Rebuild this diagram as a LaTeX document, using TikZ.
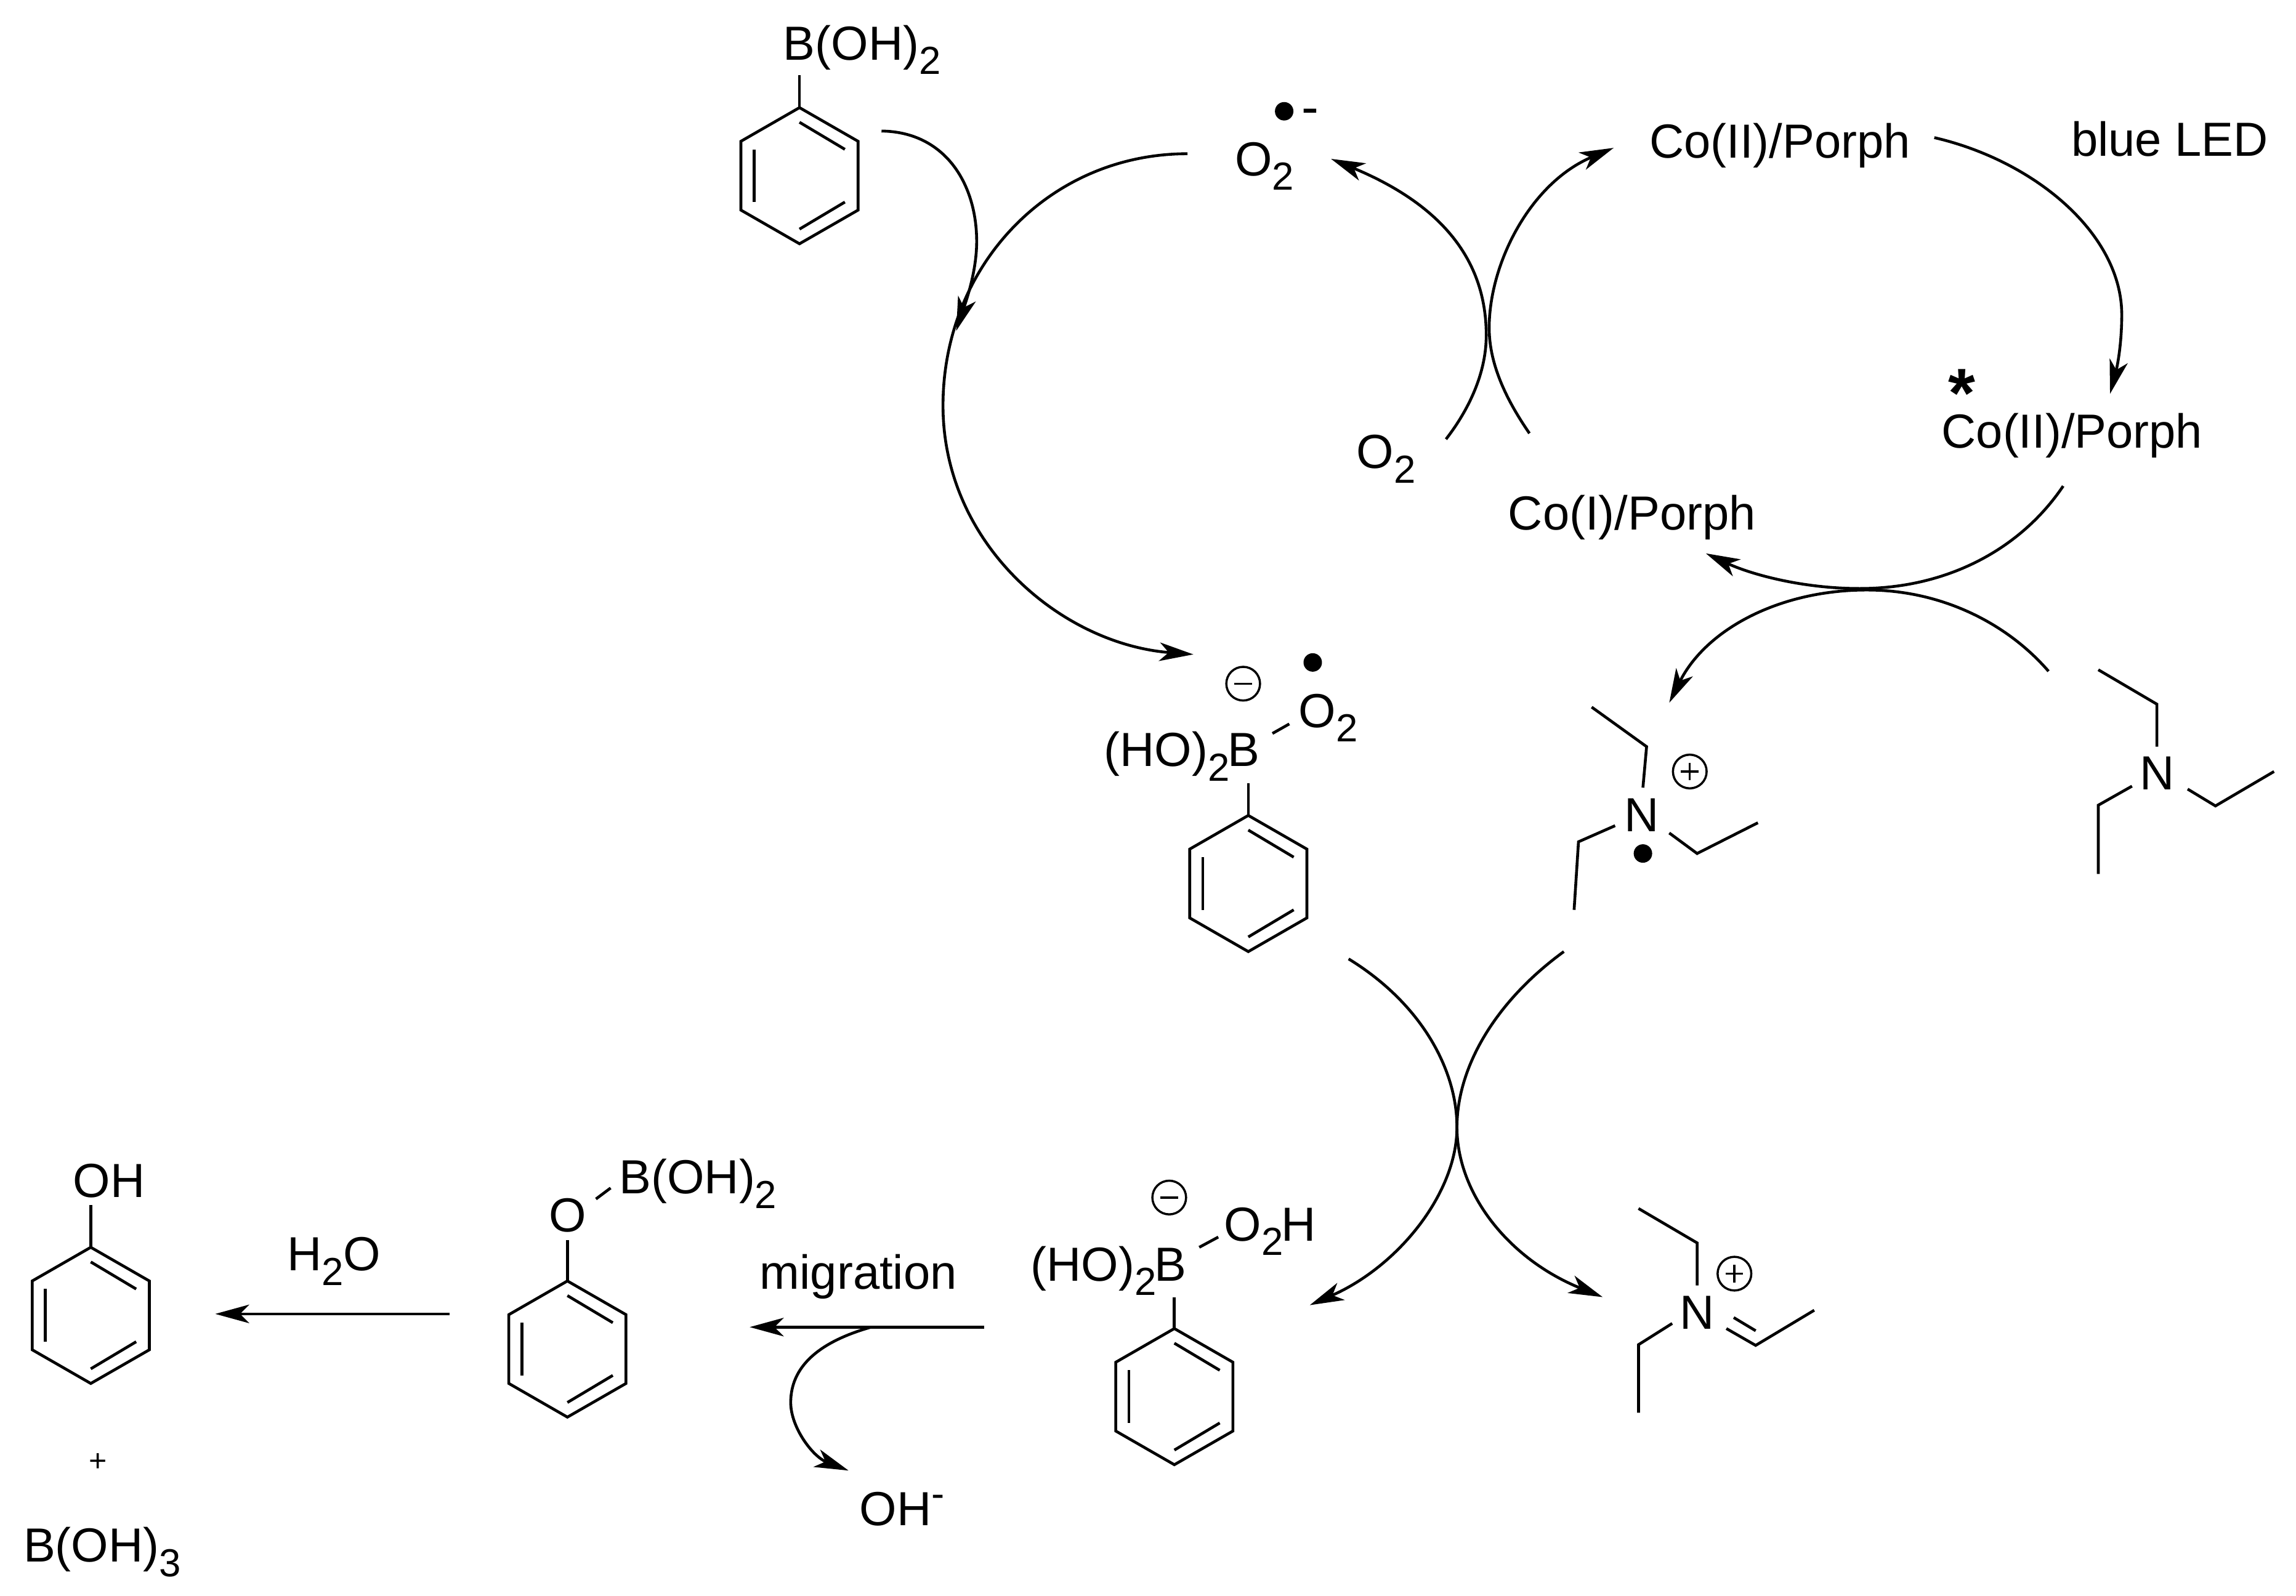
\documentclass[tikz,border=0pt]{standalone}
\usepackage{fontspec}
\setmainfont{Liberation Sans}
\usetikzlibrary{arrows.meta}
\newcommand{\chemsub}[1]{\raisebox{-0.3em}{\fontsize{7.6}{8}\selectfont #1}}
\newcommand{\benzring}[2]{%
  \draw[bond,line join=miter] (#1,#2-46.5) -- (#1+40,#2-23.5) -- (#1+40,#2+23.5) -- (#1,#2+46.5) -- (#1-40,#2+23.5) -- (#1-40,#2-23.5) -- cycle;
  \draw[bond] (#1,#2-36.5) -- (#1+31,#2-18);
  \draw[bond] (#1-31,#2-18) -- (#1-31,#2+18);
  \draw[bond] (#1+31,#2+18) -- (#1,#2+36.5);
}
\newcommand{\chargeplus}[2]{%
  \draw[chg] (#1,#2) circle[radius=0.115cm];
  \draw[chg] (#1-6,#2) -- (#1+6,#2) (#1,#2-6) -- (#1,#2+6);
}
\newcommand{\chargeminus}[2]{%
  \draw[chg] (#1,#2) circle[radius=0.115cm];
  \draw[chg] (#1-6,#2) -- (#1+6,#2);
}
\tikzset{
  bond/.style={line width=0.55pt,line cap=butt},
  chg/.style={line width=0.42pt},
  curved/.style={line width=0.55pt,-{Stealth[length=6.6pt,width=3.6pt,inset=1.8pt]}},
  chem/.style={inner sep=0pt,outer sep=0pt,anchor=base west,font=\fontsize{9.3}{11}\selectfont},
  chemc/.style={inner sep=0pt,outer sep=0pt,anchor=base,font=\fontsize{9.3}{11}\selectfont},
  dotmark/.style={fill=black,draw=none}
}
\begin{document}
\begin{tikzpicture}[x=0.01cm,y=-0.01cm]
\useasboundingbox (0,0) rectangle (1568,1090);
% text
\node[chem] (boh) at (535,41) {B(OH)\chemsub{2}};
\node[chem] (o2rad) at (843.5,120) {O\chemsub{2}};
\node[chem] (o2) at (926.5,320) {O\chemsub{2}};
\node[chem] (co2top) at (1126.5,108) {Co(II)/Porph};
\node[chem] (blue) at (1414.5,106.5) {blue LED};
\node[chem] (co2star) at (1326,306) {Co(II)/Porph};
\node[chem] (co1) at (1030,362) {Co(I)/Porph};
\node[chem] (hob1) at (754,523.5) {(HO)\chemsub{2}\kern-0.35ptB};
\node[chem] (o2b) at (887,497) {O\chemsub{2}};
\node[chem] (hob2) at (704,875) {(HO)\chemsub{2}\kern-0.35ptB};
\node[chem] (o2h) at (836,847.5) {O\chemsub{2}\kern-0.4ptH};
\node[chemc] (n1) at (1121,568) {N};
\node[chemc] (n2) at (1473,539.5) {N};
\node[chemc] (n3) at (1159,908) {N};
\node[chem] (mig) at (519,880.5) {migration};
\node[chem] (water) at (196,868) {H\chemsub{2}O};
\node[chem] (oh) at (50,818) {OH};
\node[chem] (oo) at (375,841.5) {O};
\node[chem] (boh2) at (423,815.5) {B(OH)\chemsub{2}};
\node[chem] (ohm) at (587,1042) {OH\raisebox{0.38em}{\fontsize{7.6}{8}\selectfont -}};
\node[chem] (boh3) at (16,1067) {B(OH)\chemsub{3}};
\node[inner sep=0pt,font=\fontsize{6}{7}\selectfont] (plus) at (67,999) {+};
\node[inner sep=0pt,anchor=base,font=\bfseries\fontsize{13.5}{14}\selectfont] (star) at (1340,285) {\smash{*}};
\node[inner sep=0pt,font=\fontsize{10}{11}\selectfont] (minusrad) at (895,80) {-};
% radical dots
\fill[dotmark] (877,76) circle[radius=0.063cm];
\fill[dotmark] (896.5,452.5) circle[radius=0.063cm];
\fill[dotmark] (1122,583) circle[radius=0.063cm];
% charges
\chargeminus{849}{467}
\chargeminus{798.5}{818}
\chargeplus{1154}{527}
\chargeplus{1184.5}{870}
% rings
\benzring{546}{120}
\draw[bond] (546,51.5) -- (546,73.5);
\benzring{852.5}{603.5}
\draw[bond] (852.5,535) -- (852.5,557);
\benzring{802}{954}
\draw[bond] (802,886) -- (802,907.5);
\benzring{387.5}{921.5}
\draw[bond] (387.5,847) -- (387.5,875);
\benzring{62}{898.5}
\draw[bond] (62,823) -- (62,852);
% short bonds
\draw[bond] (869,501) -- (880.5,494.5);
\draw[bond] (819,852) -- (832,845);
\draw[bond] (407,819) -- (417,811.5);
% amines
\draw[bond] (1433,457.5) -- (1473,481) -- (1473,510);
\draw[bond] (1456,537) -- (1433,550) -- (1433,597);
\draw[bond] (1494,539) -- (1513,550.5) -- (1553,527);
\draw[bond] (1087,483) -- (1124.5,510) -- (1122,538);
\draw[bond] (1103,564) -- (1078,575) -- (1075,621.5);
\draw[bond] (1140,569) -- (1159,583) -- (1200.5,562);
\draw[bond] (1119,825.5) -- (1159,849) -- (1159,878);
\draw[bond] (1142,904) -- (1119,918.5) -- (1119,965);
\draw[bond] (1179,907.5) -- (1199,919) -- (1239,895);
\draw[bond] (1184,900) -- (1199,909);
% connector end points
\coordinate (a1) at (602,89.5);
\coordinate (a2) at (653,226);
\coordinate (b1) at (811,105);
\coordinate (b2) at (815,447);
\coordinate (c1) at (987.5,300);
\coordinate (c2) at (909,108.5);
\coordinate (d1) at (1044.5,296);
\coordinate (d2) at (1102,101);
\coordinate (e1) at (1321,94);
\coordinate (e2) at (1441,269);
\coordinate (f1) at (1409,332);
\coordinate (f2) at (1165,378);
\coordinate (g1) at (1399,458.5);
\coordinate (g2) at (1140,480);
\coordinate (h1) at (921,655);
\coordinate (h2) at (894.5,891.5);
\coordinate (i1) at (1068,650);
\coordinate (i2) at (1094.5,886);
\coordinate (j1) at (672,906.5);
\coordinate (j2) at (512,906.5);
\coordinate (k1) at (307,897.5);
\coordinate (k2) at (147,897.5);
\coordinate (l1) at (595,906.5);
\coordinate (l2) at (579.5,1004.5);
% curved arrows
\draw[curved] (a1) .. controls (645,90) and (667,125) .. (667,165) .. controls (667,185) and (660,205) .. (a2);
\draw[curved] (b1) .. controls (716,105) and (644,182) .. (644,277) .. controls (644,372) and (725,440) .. (b2);
\draw[curved] (c1) .. controls (1003,280) and (1015,255) .. (1015,229) .. controls (1015,178) and (985,140) .. (c2);
\draw[curved] (d1) .. controls (1030,275) and (1017,250) .. (1017,224) .. controls (1017,180) and (1045,125) .. (d2);
\draw[curved] (e1) .. controls (1390,110) and (1449,160) .. (1449,215) .. controls (1449,235) and (1446,250) .. (e2);
\draw[curved] (f1) .. controls (1380,375) and (1330,402) .. (1270,402) .. controls (1230,402) and (1195,392) .. (f2);
\draw[curved] (g1) .. controls (1370,425) and (1325,403) .. (1275,403) .. controls (1215,403) and (1165,430) .. (g2);
\draw[curved] (h1) .. controls (970,685) and (995,730) .. (995,770) .. controls (995,815) and (955,865) .. (h2);
\draw[curved] (i1) .. controls (1020,685) and (995,730) .. (995,770) .. controls (995,815) and (1030,860) .. (i2);
\draw[curved] (j1) -- (j2);
\draw[curved] (k1) -- (k2);
\draw[curved] (l1) .. controls (565,915) and (540,930) .. (540,958) .. controls (540,975) and (555,995) .. (l2);
\end{tikzpicture}
\end{document}
